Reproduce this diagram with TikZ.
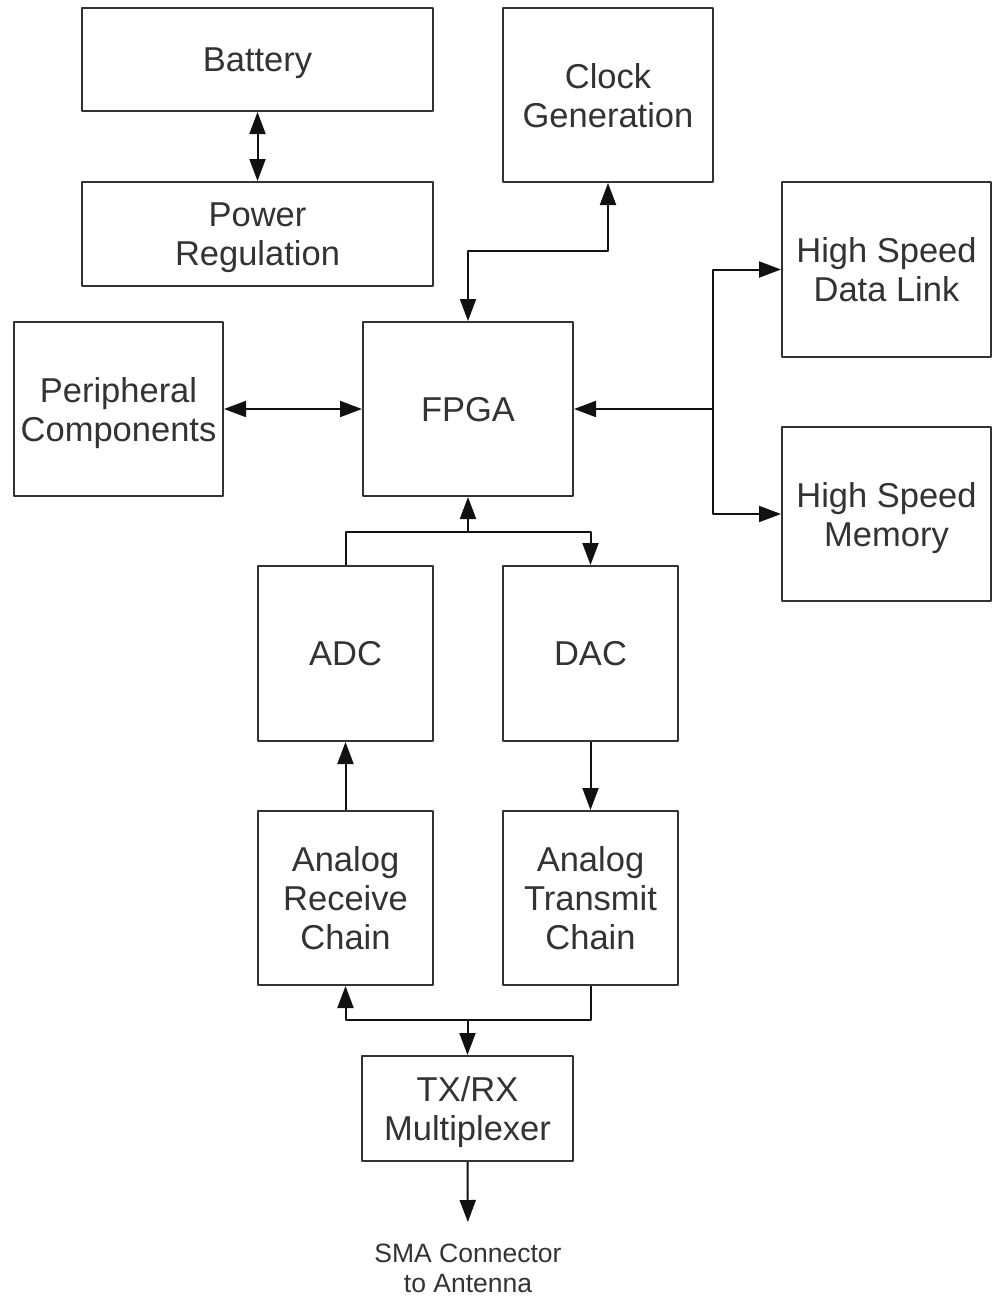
\documentclass[tikz,border=0pt]{standalone}
\usepackage{fontspec}
\setmainfont{Liberation Sans}
\usetikzlibrary{arrows.meta}
\definecolor{ink}{HTML}{333333}
\definecolor{wirec}{HTML}{111111}
\begin{document}
\begin{tikzpicture}[x=1pt, y=-1pt,
  block/.style={draw=ink, line width=2pt, line join=round, fill=white,
    inner sep=0pt, align=center, text=ink, text depth=0pt,
    font=\fontsize{34.5pt}{39pt}\selectfont},
  note/.style={inner sep=0pt, align=center, text=ink,
    font=\fontsize{26.5pt}{30pt}\selectfont},
  tip/.tip={Triangle[length=22pt, width=16pt]},
  wire/.style={draw=wirec, line width=2pt, line join=round, -tip},
  biwire/.style={draw=wirec, line width=2pt, line join=round, tip-tip}]

\useasboundingbox[fill=white] (0,0) rectangle (992,1298);

% blocks
\node[block, minimum width=351pt, minimum height=103pt] (bat)  at (257.5,59.5)  {Battery};
\node[block, minimum width=351pt, minimum height=104pt] (pwr)  at (257.5,234)   {Power\\Regulation};
\node[block, minimum width=210pt, minimum height=174pt] (clk)  at (608,95)      {Clock\\Generation};
\node[block, minimum width=209pt, minimum height=175pt] (hsdl) at (886.5,269.5) {High Speed\\Data Link};
\node[block, minimum width=209pt, minimum height=174pt] (per)  at (118.5,409)   {Peripheral\\Components};
\node[block, minimum width=210pt, minimum height=174pt] (fpga) at (468,409)     {FPGA};
\node[block, minimum width=209pt, minimum height=174pt] (mem)  at (886.5,514)   {High Speed\\Memory};
\node[block, minimum width=175pt, minimum height=175pt] (adc)  at (345.5,653.5) {ADC};
\node[block, minimum width=175pt, minimum height=175pt] (dac)  at (590.5,653.5) {DAC};
\node[block, minimum width=175pt, minimum height=174pt] (arx)  at (345.5,898)   {Analog\\Receive\\Chain};
\node[block, minimum width=175pt, minimum height=174pt] (atx)  at (590.5,898)   {Analog\\Transmit\\Chain};
\node[block, minimum width=211pt, minimum height=105pt] (mux)  at (467.5,1108.5) {TX/RX\\Multiplexer};
\node[note, anchor=north] (sma) at (468,1244) {SMA Connector\\to Antenna};

% routing rows and junctions
\coordinate (clkrow) at (0,251);
\coordinate (hub)    at (713,409);
\coordinate (dbus)   at (0,532);
\coordinate (abus)   at (0,1020);

% connectors
\draw[biwire] (bat.south) -- (pwr.north);
\draw[biwire] (fpga.north) -- (fpga.north |- clkrow) -| (clk.south);
\draw[biwire] (per.east) -- (fpga.west);
\draw[wire] (hub) -- (fpga.east);
\draw[wire] (hub) |- (hsdl.west);
\draw[wire] (hub) |- (mem.west);
\draw[wire] (adc.north) |- (dac.north |- dbus) -- (dac.north);
\draw[wire] (fpga.south |- dbus) -- (fpga.south);
\draw[wire] (arx.north) -- (adc.south);
\draw[wire] (dac.south) -- (atx.north);
\draw[wire] (atx.south) |- (arx.south |- abus) -- (arx.south);
\draw[wire] (mux.north |- abus) -- (mux.north);
\draw[wire, shorten >=22pt] (mux.south) -- (sma.north);
\end{tikzpicture}
\end{document}
